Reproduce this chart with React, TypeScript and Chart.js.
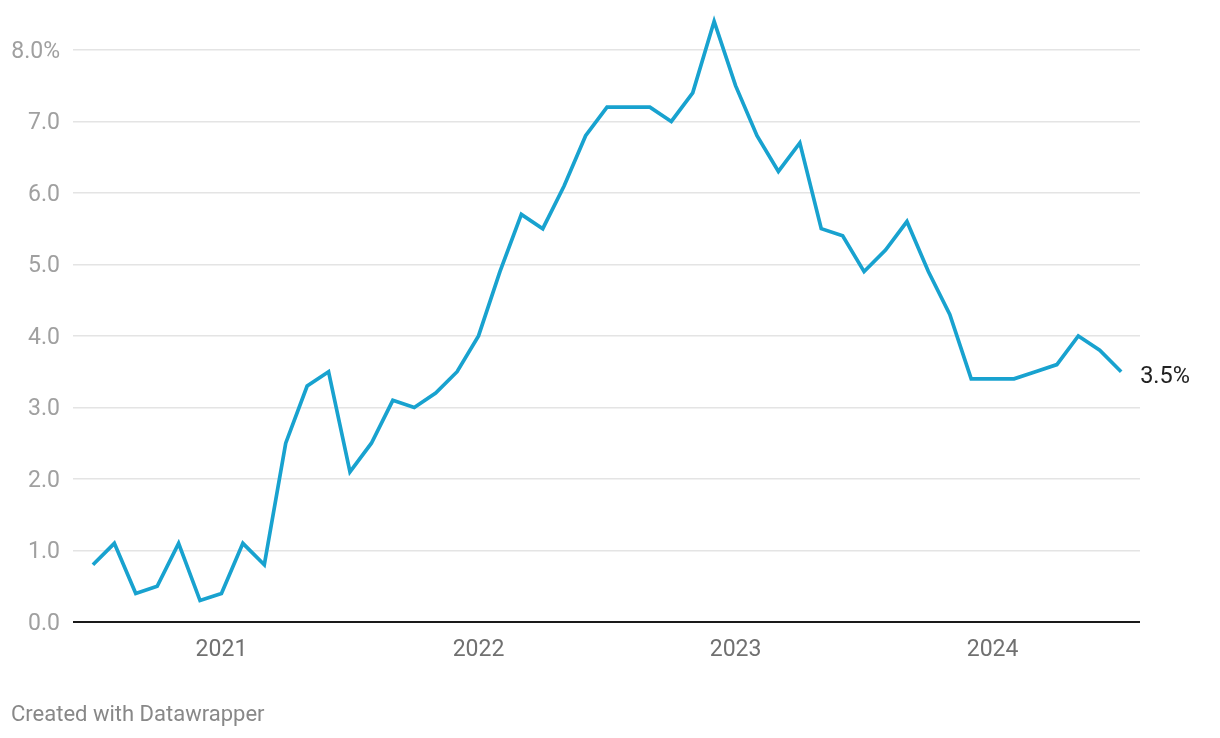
import React, { useEffect, useRef } from 'react';
import { Chart, registerables } from 'chart.js';

Chart.register(...registerables);

// Monthly inflation rate, Jul 2020 – Jul 2024
const months = [
  '2020-07', '2020-08', '2020-09', '2020-10', '2020-11', '2020-12',
  '2021-01', '2021-02', '2021-03', '2021-04', '2021-05', '2021-06',
  '2021-07', '2021-08', '2021-09', '2021-10', '2021-11', '2021-12',
  '2022-01', '2022-02', '2022-03', '2022-04', '2022-05', '2022-06',
  '2022-07', '2022-08', '2022-09', '2022-10', '2022-11', '2022-12',
  '2023-01', '2023-02', '2023-03', '2023-04', '2023-05', '2023-06',
  '2023-07', '2023-08', '2023-09', '2023-10', '2023-11', '2023-12',
  '2024-01', '2024-02', '2024-03', '2024-04', '2024-05', '2024-06',
  '2024-07',
];

const inflation = [
  0.8, 1.1, 0.4, 0.5, 1.1, 0.3,
  0.4, 1.1, 0.8, 2.5, 3.3, 3.5, 2.1, 2.5, 3.1, 3.0, 3.2, 3.5,
  4.0, 4.9, 5.7, 5.5, 6.1, 6.8, 7.2, 7.2, 7.2, 7.0, 7.4, 8.4,
  7.5, 6.8, 6.3, 6.7, 5.5, 5.4, 4.9, 5.2, 5.6, 4.9, 4.3, 3.4,
  3.4, 3.4, 3.5, 3.6, 4.0, 3.8, 3.5,
];

const yearLabels = ['2021', '2022', '2023', '2024'];
const yearTickMonths = ['2021-01', '2022-01', '2023-01', '2024-01'];
const yTickValues = [0, 1, 2, 3, 4, 5, 6, 7, 8];

const LINE_COLOR = '#18a2cf';
const FONT = 'Roboto, "Noto Sans", sans-serif';

export default function App() {
  const canvasRef = useRef<HTMLCanvasElement | null>(null);

  useEffect(() => {
    document.body.style.margin = '0';
    const canvas = canvasRef.current;
    if (!canvas) return;

    const points = inflation.map((v, i) => ({ x: i, y: v }));
    const yearTickIdx = yearTickMonths.map((m) => months.indexOf(m));

    const endLabel = {
      id: 'endLabel',
      afterDraw(chart: any) {
        const ctx = chart.ctx;
        const meta = chart.getDatasetMeta(0);
        const last = meta.data[meta.data.length - 1];
        ctx.save();
        ctx.font = `23.5px ${FONT}`;
        ctx.fillStyle = '#222222';
        ctx.textAlign = 'left';
        ctx.textBaseline = 'middle';
        ctx.fillText(inflation[inflation.length - 1].toFixed(1) + '%', last.x + 19, last.y + 5);
        ctx.font = `22px ${FONT}`;
        ctx.fillStyle = '#888888';
        ctx.fillText('Created with Datawrapper', 11, 715);
        ctx.restore();
      },
    };

    const chart = new Chart(canvas, {
      type: 'line',
      data: {
        datasets: [
          {
            data: points,
            borderColor: LINE_COLOR,
            borderWidth: 3.7,
            pointRadius: 0,
            pointHoverRadius: 0,
            tension: 0,
            fill: false,
          },
        ],
      },
      options: {
        animation: false,
        responsive: false,
        devicePixelRatio: 1,
        layout: { padding: { left: 0, right: 80, top: 7, bottom: 66 } },
        plugins: {
          legend: { display: false },
          tooltip: { enabled: false },
          title: { display: false },
        },
        scales: {
          x: {
            type: 'linear',
            min: -0.93,
            max: 48.88,
            afterBuildTicks: (scale: any) => {
              scale.ticks = yearTickIdx.map((v) => ({ value: v }));
            },
            afterFit: (scale: any) => {
              scale.height = 50;
              scale.paddingLeft = 0;
              scale.paddingRight = 0;
            },
            grid: { display: false, drawTicks: false },
            border: { display: false },
            ticks: {
              autoSkip: false,
              maxRotation: 0,
              padding: 14,
              color: '#707070',
              font: { family: FONT, size: 23 },
              callback: (value: any) => yearLabels[yearTickIdx.indexOf(Number(value))] ?? '',
            },
          },
          y: {
            type: 'linear',
            min: 0,
            max: 8.6,
            afterBuildTicks: (scale: any) => {
              scale.ticks = yTickValues.map((v) => ({ value: v }));
            },
            afterFit: (scale: any) => {
              scale.width = 73;
              scale.paddingTop = 0;
              scale.paddingBottom = 0;
            },
            grid: {
              drawTicks: false,
              color: (ctx: any) => (ctx.tick && ctx.tick.value === 0 ? '#1a1a1a' : '#e4e4e4'),
              lineWidth: (ctx: any) => (ctx.tick && ctx.tick.value === 0 ? 2 : 1.5),
            },
            border: { display: false },
            ticks: {
              padding: 13,
              labelOffset: 2,
              color: '#a0a0a0',
              font: { family: FONT, size: 23 },
              callback: (value: any) => {
                const v = Number(value);
                return v === 8 ? v.toFixed(1) + '%' : v.toFixed(1);
              },
            },
          },
        },
      },
      plugins: [endLabel],
    });

    return () => chart.destroy();
  }, []);

  return (
    <div style={{ width: 1220, height: 738, background: '#ffffff' }}>
      <canvas ref={canvasRef} width={1220} height={738} style={{ display: 'block' }} />
    </div>
  );
}
